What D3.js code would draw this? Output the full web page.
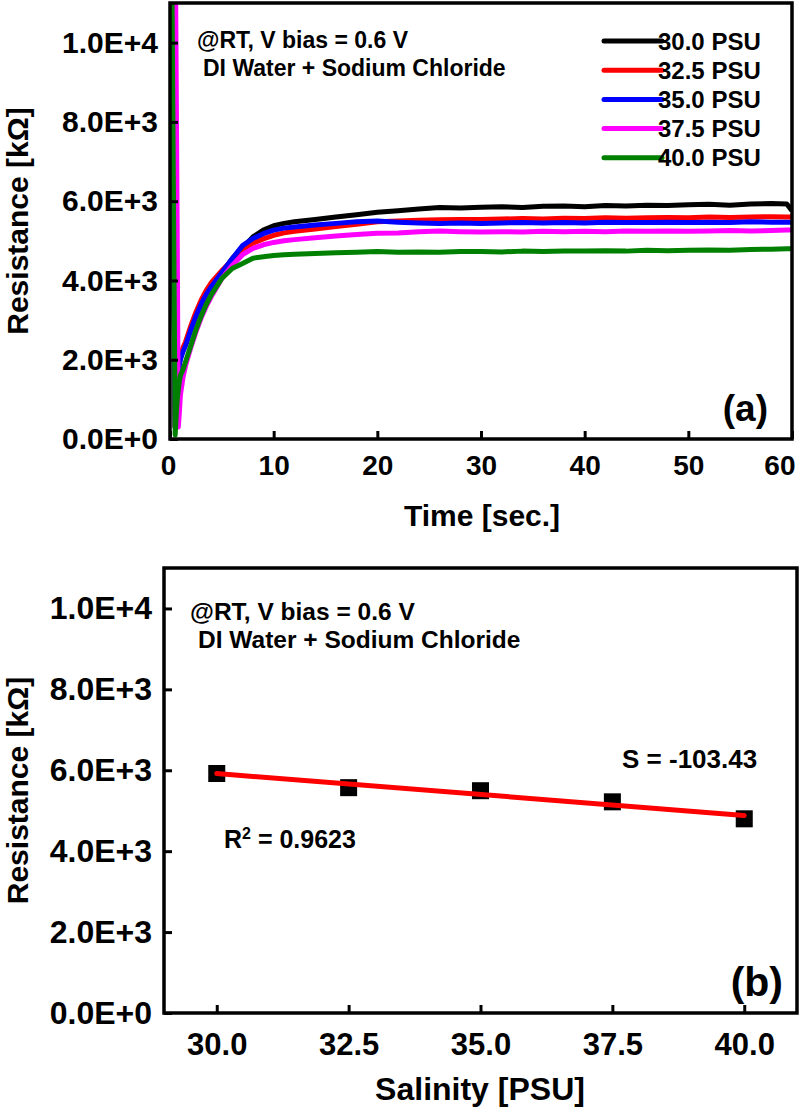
<!DOCTYPE html>
<html><head><meta charset="utf-8">
<script src="https://cdn.jsdelivr.net/npm/d3@7"></script>
<style>
body{margin:0;background:#fff}
svg text{font-family:"Liberation Sans",Arial,Helvetica,sans-serif;font-weight:bold;fill:#000}
</style>
</head><body>
<svg id="chart" width="800" height="1109"></svg>
<script>
// ---------- DATA ----------
const timeSec = [0,0.2,0.4,0.5,0.6,0.7,0.8,0.9, 1,1.25,1.5,2,2.5,3,3.5,4, 5,6,7,8,9,10,11,12, 14,16,18,20,22,24,26,28, 30,32,34,36,38,40,42,44, 46,48,50,52,54,56,58,59.5, 60];
const res30_0 = [14000,11000,3700,300,900,1400,1750,1900, 2050,2250,2400,2750,3100,3400,3650,3850, 4200,4550,4820,5100,5270,5380,5440,5480, 5540,5600,5660,5720,5760,5800,5840,5830, 5850,5860,5840,5870,5880,5860,5890,5880, 5900,5890,5910,5920,5900,5930,5940,5930, 5760];
const res32_5 = [14000,11000,3700,300,900,1450,1800,1950, 2100,2300,2450,2850,3200,3500,3750,3950, 4250,4500,4780,4940,5050,5140,5200,5240, 5300,5360,5420,5480,5500,5520,5530,5540, 5540,5550,5560,5550,5570,5560,5580,5570, 5580,5590,5580,5600,5590,5600,5610,5600, 5600];
const res35_0 = [14000,11000,3700,300,850,1350,1700,1850, 2000,2200,2350,2750,3100,3400,3650,3850, 4200,4550,4880,5060,5180,5270,5320,5350, 5400,5440,5480,5500,5470,5450,5440,5450, 5440,5450,5460,5450,5460,5450,5470,5460, 5460,5470,5460,5470,5460,5480,5470,5470, 5470];
const res37_5 = [14000,14000,13500,13000,9000,4900,300,650, 1100,1550,1850,2300,2700,3050,3350,3600, 4050,4380,4650,4810,4900,4960,5000,5030, 5080,5120,5160,5190,5200,5230,5250,5230, 5220,5230,5220,5240,5230,5240,5230,5250, 5240,5250,5240,5250,5260,5250,5260,5270, 5270];
const res40_0 = [14000,11000,3700,100,600,1000,1250,1450, 1600,1750,1950,2350,2750,3100,3400,3650, 4050,4300,4430,4560,4600,4630,4650,4660, 4680,4700,4710,4730,4710,4720,4710,4730, 4730,4720,4740,4730,4740,4740,4750,4740, 4760,4750,4760,4770,4760,4780,4790,4800, 4800];
const seriesLabels = ["30.0 PSU","32.5 PSU","35.0 PSU","37.5 PSU","40.0 PSU"];
const seriesColors = ["#000000","#ff0000","#0000ff","#ff00ff","#008000"];
const seriesValues = [res30_0,res32_5,res35_0,res37_5,res40_0];

const resTicks = [0,2000,4000,6000,8000,10000];
const resTickLabels = ["0.0E+0","2.0E+3","4.0E+3","6.0E+3","8.0E+3","1.0E+4"];
const timeTicks = [0,10,20,30,40,50,60];
const timeTickLabels = ["0","10","20","30","40","50","60"];

const salinity = [30,32.5,35,37.5,40];
const salinityTickLabels = ["30.0","32.5","35.0","37.5","40.0"];
const resVsSalinity = [5920,5570,5495,5220,4800];

// ---------- DRAW ----------
const svg = d3.select("#chart");

function frame(g, L, T, R, B){
  g.append("rect").attr("x",L).attr("y",T).attr("width",R-L).attr("height",B-T)
    .attr("fill","none").attr("stroke","#000").attr("stroke-width",3.5);
}
function styleAxis(sel, fs){
  sel.select(".domain").remove();
  sel.selectAll(".tick line").attr("stroke","#000").attr("stroke-width",3);
  sel.selectAll(".tick text").attr("font-size",fs+"px")
     .attr("font-family",'"Liberation Sans",Arial,sans-serif').attr("font-weight","bold").attr("fill","#000");
}

// ===== Panel (a) =====
const aL=170, aR=792, aT=3, aB=439;
const xa = d3.scaleLinear().domain([0,60]).range([aL,aR]);
const ya = d3.scaleLinear().domain([0,11000]).range([aB,aT]);
const ga = svg.append("g");

ga.append("clipPath").attr("id","clipA").append("rect")
  .attr("x",aL).attr("y",aT).attr("width",aR-aL).attr("height",aB-aT);

const lineA = d3.line().x((d,i)=>xa(timeSec[i])).y(d=>ya(d));
seriesValues.forEach((vals,k)=>{
  ga.append("path").attr("clip-path","url(#clipA)")
    .attr("d",lineA(vals)).attr("fill","none")
    .attr("stroke",seriesColors[k]).attr("stroke-width",5)
    .attr("stroke-linejoin","round");
});

ga.append("g").attr("transform",`translate(${aL},0)`)
  .call(d3.axisLeft(ya).tickValues(resTicks).tickFormat((d,i)=>resTickLabels[i])
    .tickSizeInner(-8).tickSizeOuter(0).tickPadding(12))
  .call(s=>styleAxis(s,30));
const xAxisA = ga.append("g").attr("transform",`translate(0,${aB})`)
  .call(d3.axisBottom(xa).tickValues(timeTicks).tickFormat((d,i)=>timeTickLabels[i])
    .tickSizeInner(-8).tickSizeOuter(0).tickPadding(16))
  .call(s=>styleAxis(s,28));
// keep the last label inside the picture, as in the reference
xAxisA.selectAll(".tick text").filter(d=>d===60).attr("text-anchor","end").attr("x",3);
xAxisA.selectAll(".tick text").filter(d=>d===0).attr("x",-2);
frame(ga,aL,aT,aR,aB);

ga.append("text").attr("x",482).attr("y",526).attr("text-anchor","middle")
  .attr("font-size","30px").text("Time [sec.]");
ga.append("text").attr("transform",`translate(28,${(aT+aB)/2}) rotate(-90)`)
  .attr("text-anchor","middle").attr("font-size","30px").text("Resistance [kΩ]");

ga.append("text").attr("x",197).attr("y",48).attr("font-size","23px").text("@RT, V bias = 0.6 V");
ga.append("text").attr("x",203).attr("y",76).attr("font-size","23px").text("DI Water + Sodium Chloride");
ga.append("text").attr("x",768).attr("y",421).attr("text-anchor","end").attr("font-size","37px").text("(a)");

// legend
seriesLabels.forEach((lab,k)=>{
  const yy = 41 + k*29.2;
  ga.append("line").attr("x1",604).attr("x2",662).attr("y1",yy).attr("y2",yy)
    .attr("stroke",seriesColors[k]).attr("stroke-width",5).attr("stroke-linecap","round");
  ga.append("text").attr("x",658).attr("y",yy).attr("dy","0.36em").attr("font-size","24px").text(lab);
});

// ===== Panel (b) =====
const bL=164, bR=797, bT=568, bB=1013;
const xb = d3.scaleLinear().domain([29,41]).range([bL,bR]);
const yb = d3.scaleLinear().domain([0,11000]).range([bB,bT]);
const gb = svg.append("g");

gb.append("g").attr("transform",`translate(${bL},0)`)
  .call(d3.axisLeft(yb).tickValues(resTicks).tickFormat((d,i)=>resTickLabels[i])
    .tickSizeInner(-8).tickSizeOuter(0).tickPadding(12))
  .call(s=>styleAxis(s,32));
gb.append("g").attr("transform",`translate(0,${bB})`)
  .call(d3.axisBottom(xb).tickValues(salinity).tickFormat((d,i)=>salinityTickLabels[i])
    .tickSizeInner(-8).tickSizeOuter(0).tickPadding(20))
  .call(s=>styleAxis(s,31));
frame(gb,bL,bT,bR,bB);

// squares
const sq = 17;
gb.selectAll("rect.pt").data(salinity).enter().append("rect").attr("class","pt")
  .attr("x",(d)=>xb(d)-sq/2).attr("y",(d,i)=>yb(resVsSalinity[i])-sq/2)
  .attr("width",sq).attr("height",sq).attr("fill","#000");

// least squares fit
const mx = d3.mean(salinity), my = d3.mean(resVsSalinity);
const slope = d3.sum(salinity,(d,i)=>(d-mx)*(resVsSalinity[i]-my)) / d3.sum(salinity,d=>(d-mx)*(d-mx));
const icpt = my - slope*mx;
const xr = d3.extent(salinity);
gb.append("path").attr("d",d3.line().x(d=>xb(d)).y(d=>yb(icpt+slope*d))(xr))
  .attr("fill","none").attr("stroke","#ff0000").attr("stroke-width",5).attr("stroke-linecap","round");

gb.append("text").attr("x",480).attr("y",1100).attr("text-anchor","middle")
  .attr("font-size","32px").text("Salinity [PSU]");
gb.append("text").attr("transform",`translate(28,${(bT+bB)/2}) rotate(-90)`)
  .attr("text-anchor","middle").attr("font-size","30px").text("Resistance [kΩ]");

gb.append("text").attr("x",190).attr("y",620).attr("font-size","24.5px").text("@RT, V bias = 0.6 V");
gb.append("text").attr("x",198).attr("y",648).attr("font-size","24.5px").text("DI Water + Sodium Chloride");
gb.append("text").attr("x",783).attr("y",996).attr("text-anchor","end").attr("font-size","41px").text("(b)");
gb.append("text").attr("x",622).attr("y",768).attr("font-size","26px").text("S = -103.43");
const r2 = gb.append("text").attr("x",224).attr("y",848).attr("font-size","25px");
r2.append("tspan").text("R");
r2.append("tspan").attr("dy","-9").attr("font-size","16px").text("2");
r2.append("tspan").attr("dy","9").text(" = 0.9623");
</script>
</body></html>
